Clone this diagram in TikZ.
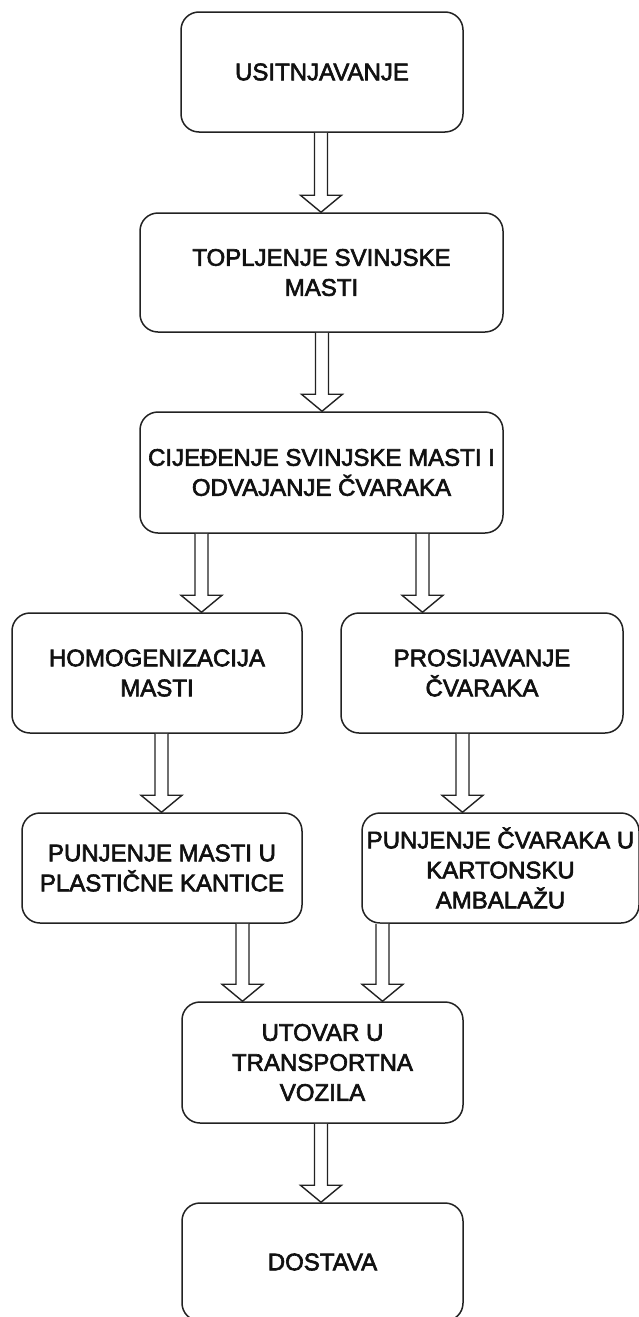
\documentclass[tikz,border=0pt]{standalone}
\usepackage{fontspec}
\setmainfont{Liberation Sans}
\newfontfamily\boxfont{Liberation Sans}[FakeBold=2.6]
\usetikzlibrary{calc}
\definecolor{ink}{HTML}{222222}
\definecolor{txt}{HTML}{111111}
\tikzset{
  stepbox/.style={draw=ink, line width=1.5pt, rounded corners=18pt, rectangle,
    inner sep=0pt, align=center, text=txt,
    font=\boxfont\fontsize{24}{30}\selectfont},
  barrow/.style={draw=ink, line width=1.4pt, fill=white, line join=miter}
}
\newcommand{\flowarr}[3]{%
  \draw[barrow] let \p1=(#2.south), \p2=(#3.north) in
    (#1pt-6.5pt,\y1) -- (#1pt-6.5pt,\y2+17pt) -- (#1pt-20.5pt,\y2+17pt) --
    (#1pt,\y2) -- (#1pt+20.5pt,\y2+17pt) -- (#1pt+6.5pt,\y2+17pt) -- (#1pt+6.5pt,\y1);}
\begin{document}
\begin{tikzpicture}
\useasboundingbox[fill=white] (0pt,0pt) rectangle (638pt,-1317pt);
\node[stepbox, minimum width=282pt, minimum height=120pt] (n1) at (322pt,-72pt) {USITNJAVANJE};
\node[stepbox, minimum width=363pt, minimum height=119pt] (n2) at (321.5pt,-272.5pt) {TOPLJENJE SVINJSKE\\MASTI};
\node[stepbox, minimum width=363pt, minimum height=121pt] (n3) at (321.5pt,-472.5pt) {CIJEĐENJE SVINJSKE MASTI I\\ODVAJANJE ČVARAKA};
\node[stepbox, minimum width=290pt, minimum height=120pt] (n4) at (157pt,-673pt) {HOMOGENIZACIJA\\MASTI};
\node[stepbox, minimum width=282pt, minimum height=120pt] (n5) at (482pt,-673pt) {PROSIJAVANJE\\ČVARAKA};
\node[stepbox, minimum width=280pt, minimum height=110pt] (n6) at (162pt,-868pt) {PUNJENJE MASTI U\\PLASTIČNE KANTICE};
\node[stepbox, minimum width=277pt, minimum height=110pt] (n7) at (500.5pt,-868pt) {PUNJENJE ČVARAKA U\\KARTONSKU\\AMBALAŽU};
\node[stepbox, minimum width=281pt, minimum height=121pt] (n8) at (322.5pt,-1062.5pt) {UTOVAR U\\TRANSPORTNA\\VOZILA};
\node[stepbox, minimum width=281pt, minimum height=118pt] (n9) at (322.5pt,-1262pt) {DOSTAVA};
\flowarr{321}{n1}{n2}
\flowarr{322}{n2}{n3}
\flowarr{201.5}{n3}{n4}
\flowarr{422.5}{n3}{n5}
\flowarr{161.5}{n4}{n6}
\flowarr{462.5}{n5}{n7}
\flowarr{242.5}{n6}{n8}
\flowarr{382.5}{n7}{n8}
\flowarr{321}{n8}{n9}
\end{tikzpicture}
\end{document}
